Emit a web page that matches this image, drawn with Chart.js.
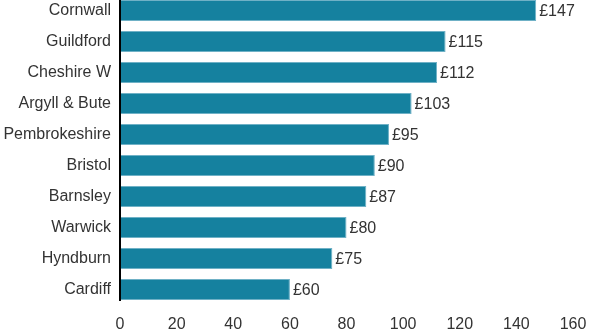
<!DOCTYPE html>
<html>
<head>
<meta charset="utf-8">
<script src="https://cdn.jsdelivr.net/npm/chart.js@4/dist/chart.umd.min.js"></script>
<style>
  html, body { margin: 0; padding: 0; background: #fff; overflow: hidden; }
  /* top band starts a little above the page edge */
  #wrap { width: 592px; height: 338px; margin-top: -5px; }
</style>
</head>
<body>
<div id="wrap"><canvas id="barChart"></canvas></div>
<script>
const councils = ["Cornwall", "Guildford", "Cheshire W", "Argyll & Bute", "Pembrokeshire",
  "Bristol", "Barnsley", "Warwick", "Hyndburn", "Cardiff"];
const costs = [147, 115, 112, 103, 95, 90, 87, 80, 75, 60];
const xTicks = [0, 20, 40, 60, 80, 100, 120, 140, 160];

const fontFamily = "'Liberation Sans', Arial, sans-serif";
const textColour = "#333";

// writes "£value" just past the end of each bar
const valueLabels = {
  id: "valueLabels",
  afterDatasetsDraw(chart) {
    const ctx = chart.ctx;
    const meta = chart.getDatasetMeta(0);
    ctx.save();
    ctx.font = "16px " + fontFamily;
    ctx.fillStyle = textColour;
    ctx.textAlign = "left";
    ctx.textBaseline = "middle";
    meta.data.forEach((bar, i) => {
      ctx.fillText("£" + costs[i], bar.x + 3, bar.y + 1);
    });
    ctx.restore();
  }
};

// black baseline on the left, stopping at the bottom of the last bar
const baseline = {
  id: "baseline",
  afterDatasetsDraw(chart) {
    const ctx = chart.ctx;
    const bars = chart.getDatasetMeta(0).data;
    const last = bars[bars.length - 1];
    const x0 = chart.scales.x.getPixelForValue(0);
    ctx.save();
    ctx.strokeStyle = "#000";
    ctx.lineWidth = 2;
    ctx.beginPath();
    ctx.moveTo(x0, chart.chartArea.top);
    ctx.lineTo(x0, last.y + last.height / 2 + 1);
    ctx.stroke();
    ctx.restore();
  }
};

const ctx = document.getElementById("barChart").getContext("2d");
const chart = new Chart(ctx, {
  type: "bar",
  data: {
    labels: councils,
    datasets: [{
      data: costs,
      backgroundColor: "#15819f",
      borderColor: "#6fb1c6",
      borderWidth: 1,
      borderSkipped: false,
      categoryPercentage: 1,
      barPercentage: 0.67
    }]
  },
  options: {
    indexAxis: "y",
    responsive: true,
    maintainAspectRatio: false,
    animation: false,
    layout: { padding: 0 },
    plugins: {
      legend: { display: false },
      tooltip: { enabled: false }
    },
    scales: {
      x: {
        min: 0,
        max: 160,
        afterBuildTicks: (scale) => { scale.ticks = xTicks.map(v => ({ value: v })); },
        afterFit: (scale) => {
          scale.height = 28;
          scale.paddingLeft = 0;
          scale.paddingRight = 19;
        },
        grid: { display: false, drawTicks: false },
        border: { display: false },
        ticks: {
          padding: 10,
          color: textColour,
          font: { family: fontFamily, size: 16 }
        }
      },
      y: {
        afterFit: (scale) => {
          scale.width = 120;
          scale.paddingTop = 0;
          scale.paddingBottom = 0;
        },
        grid: { display: false, drawTicks: false },
        border: { display: false },
        ticks: {
          padding: 9,
          color: textColour,
          font: { family: fontFamily, size: 16 }
        }
      }
    }
  },
  plugins: [valueLabels, baseline]
});
</script>
</body>
</html>
